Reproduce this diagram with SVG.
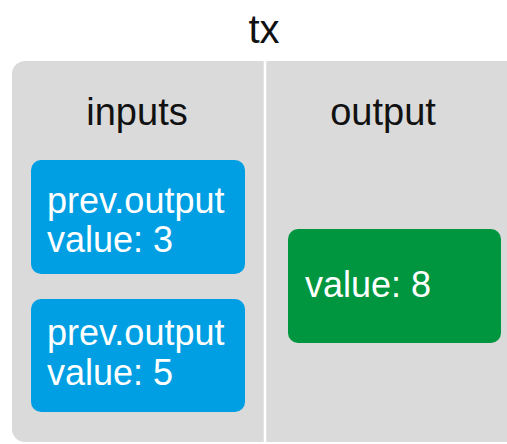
<svg xmlns="http://www.w3.org/2000/svg" width="507" height="444" viewBox="0 0 507 444">
<style>
text{font-family:"Liberation Sans",Arial,sans-serif}
.hd{font-size:38px;fill:#111;text-anchor:middle}
.bt{font-size:36px;fill:#fff}
.in{fill:#009fe3}
.out{fill:#00963f}
</style>
<rect width="507" height="444" fill="#fff"/>
<g id="tx">
<rect x="12" y="61" width="520" height="381" rx="13" fill="#dadada"/>
<line x1="265" y1="61" x2="265" y2="444" stroke="#fff" stroke-width="2.5"/>
<text x="264" y="43" class="hd" style="font-size:40px">tx</text>
<text x="137" y="125" class="hd">inputs</text>
<text x="383" y="125" class="hd">output</text>
</g>
<g id="input1">
<rect x="31" y="160" width="214" height="114" rx="10" class="in"/>
<text x="47" y="213" class="bt">prev.output</text>
<text x="47" y="252" class="bt">value: 3</text>
</g>
<g id="input2">
<rect x="31" y="299" width="214" height="113" rx="10" class="in"/>
<text x="47" y="345" class="bt">prev.output</text>
<text x="47" y="385" class="bt">value: 5</text>
</g>
<g id="output1">
<rect x="288" y="229" width="213" height="114" rx="10" class="out"/>
<text x="305" y="297" class="bt">value: 8</text>
</g>
<g id="connectors"/>
</svg>
